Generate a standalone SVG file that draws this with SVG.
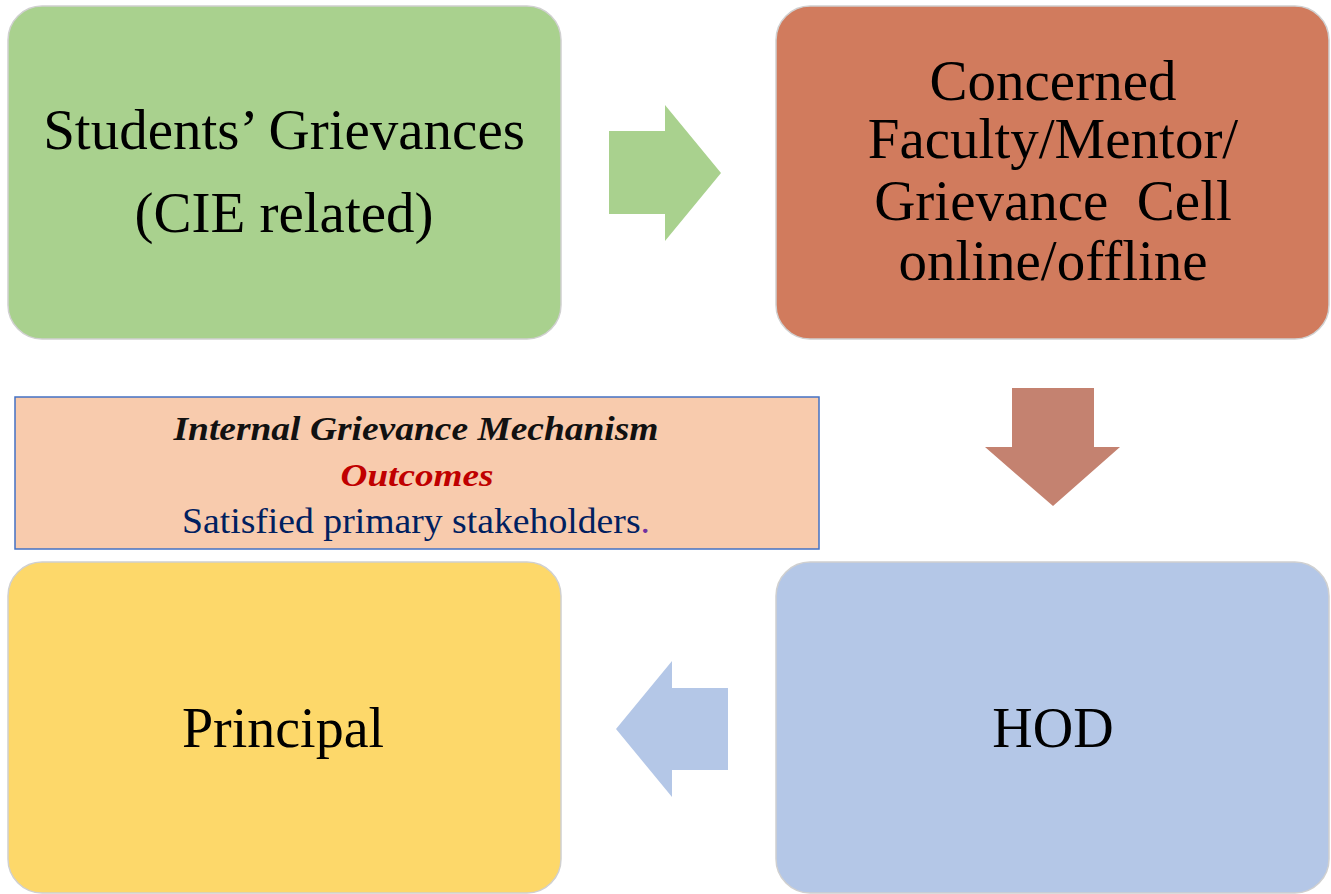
<svg xmlns="http://www.w3.org/2000/svg" width="1331" height="894" viewBox="0 0 1331 894">
<style>
.box{stroke:#d0d0d0;stroke-width:1.5}
.t{font-family:"Liberation Serif","Times New Roman",serif;font-size:57px;fill:#000;text-anchor:middle}
.b{font-size:56px}
.c{font-family:"Liberation Serif","Times New Roman",serif;text-anchor:middle}
</style>
<rect width="1331" height="894" fill="#fff"/>
<g id="connectors">
<polygon points="609,131 665,131 665,105 721,173 665,241 665,214 609,214" fill="#A9D18E"/>
<polygon points="1012,388 1094,388 1094,447 1120,447 1053,506 985,447 1012,447" fill="#C48270"/>
<polygon points="728,688 672,688 672,661 616,729 672,797 672,770 728,770" fill="#B4C7E7"/>
</g>
<g id="students">
<rect class="box" x="8" y="6" width="553" height="333" rx="34" fill="#A9D18E"/>
<text class="t" x="284" y="149">Students’ Grievances</text>
<text class="t" x="284" y="232">(CIE related)</text>
</g>
<g id="faculty">
<rect class="box" x="776" y="6" width="553" height="333" rx="34" fill="#D17B5D"/>
<text class="t" x="1053" y="100">Concerned</text>
<text class="t" x="1053" y="158">Faculty/Mentor/</text>
<text class="t" x="1053" y="220" xml:space="preserve">Grievance  Cell</text>
<text class="t" x="1053" y="280">online/offline</text>
</g>
<g id="hod">
<rect class="box" x="776" y="562" width="553" height="331" rx="34" fill="#B4C7E7"/>
<text class="t b" x="1053" y="747">HOD</text>
</g>
<g id="principal">
<rect class="box" x="8" y="562" width="553" height="331" rx="34" fill="#FDD86A"/>
<text class="t b" x="283" y="747">Principal</text>
</g>
<g id="outcomes">
<rect x="15" y="397" width="804" height="152" fill="#F8CBAD" stroke="#4472C4" stroke-width="1.5"/>
<text class="c" x="416" y="440" font-size="33" font-weight="bold" font-style="italic" fill="#111" textLength="485" lengthAdjust="spacingAndGlyphs">Internal Grievance Mechanism</text>
<text class="c" x="417" y="486" font-size="31" font-weight="bold" font-style="italic" fill="#C00000" textLength="153" lengthAdjust="spacingAndGlyphs">Outcomes</text>
<text class="c" x="416" y="533" font-size="35" fill="#002060" textLength="468" lengthAdjust="spacingAndGlyphs">Satisfied primary stakeholders<tspan fill="#7030A0">.</tspan></text>
</g>
</svg>
